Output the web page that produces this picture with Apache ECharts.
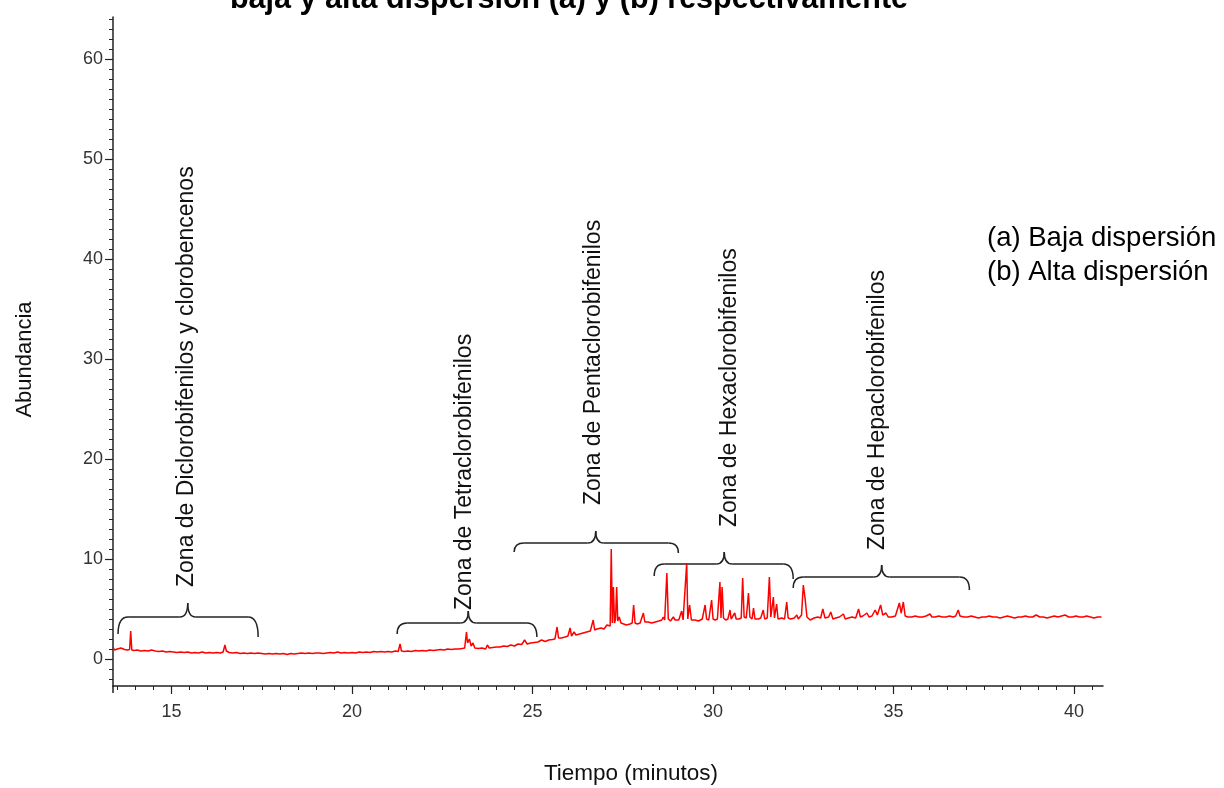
<!DOCTYPE html>
<html>
<head>
<meta charset="utf-8">
<script src="https://cdn.jsdelivr.net/npm/echarts@6/dist/echarts.min.js"></script>
<style>
html,body{margin:0;padding:0;background:#fff;}
#chart{width:1224px;height:788px;}
</style>
</head>
<body>
<div id="chart"></div>
<script>
// ---- data (time in minutes, abundance) ----
const trace = [
[13.38,1.2],[13.42,0.9],[13.5,1.0],[13.55,0.85],[13.6,1.1],[13.65,0.9],[13.7,0.95],[13.78,0.9],[13.84,0.95],[13.87,2.8],[13.9,0.9],[13.96,0.85],
[14.05,0.9],[14.15,0.8],[14.25,0.85],[14.35,0.8],[14.45,0.9],[14.55,0.8],[14.65,0.75],[14.75,0.8],[14.85,0.7],[14.95,0.75],
[15.05,0.7],[15.15,0.65],[15.25,0.7],[15.35,0.65],[15.45,0.7],[15.55,0.6],[15.65,0.65],[15.75,0.6],[15.85,0.7],[15.95,0.6],
[16.05,0.65],[16.15,0.6],[16.25,0.65],[16.35,0.6],[16.43,0.7],[16.48,1.4],[16.52,0.8],[16.6,0.65],[16.7,0.6],[16.8,0.65],[16.9,0.55],
[17.0,0.6],[17.1,0.55],[17.2,0.6],[17.3,0.55],[17.4,0.6],[17.5,0.55],[17.6,0.5],[17.7,0.55],[17.8,0.5],[17.9,0.55],
[18.0,0.5],[18.1,0.55],[18.2,0.45],[18.3,0.55],[18.4,0.5],[18.5,0.55],[18.6,0.6],[18.7,0.55],[18.8,0.6],[18.9,0.55],
[19.0,0.6],[19.05,0.8],[19.1,0.6],[19.2,0.55],[19.3,0.6],[19.4,0.65],[19.5,0.6],[19.6,0.7],[19.7,0.6],[19.8,0.65],[19.9,0.6],
[20.0,0.65],[20.1,0.6],[20.2,0.7],[20.3,0.65],[20.4,0.7],[20.5,0.65],[20.6,0.75],[20.7,0.7],[20.8,0.75],[20.9,0.7],
[21.0,0.75],[21.1,0.7],[21.2,0.8],[21.28,0.75],[21.33,1.5],[21.37,0.8],[21.45,0.75],[21.55,0.8],[21.65,0.75],[21.75,0.85],[21.85,0.8],[21.95,0.85],
[22.05,0.8],[22.15,0.9],[22.25,0.85],[22.35,0.9],[22.45,0.95],[22.55,0.9],[22.65,1.0],[22.75,0.95],[22.85,1.0],[22.95,1.0],
[23.05,1.05],[23.12,1.1],[23.17,2.7],[23.2,1.6],[23.25,2.0],[23.3,1.3],[23.35,1.6],[23.4,1.1],[23.5,1.05],[23.6,1.1],[23.7,1.0],[23.75,1.4],[23.8,1.1],[23.9,1.15],
[24.0,1.2],[24.1,1.2],[24.2,1.3],[24.3,1.25],[24.4,1.4],[24.5,1.3],[24.6,1.5],[24.7,1.45],[24.78,1.9],[24.85,1.5],[24.95,1.6],
[25.05,1.65],[25.15,1.7],[25.25,1.9],[25.35,1.75],[25.45,1.9],[25.55,1.95],[25.62,2.0],[25.68,3.2],[25.72,2.1],[25.8,2.1],[25.9,2.2],[25.98,2.3],
[26.04,3.1],[26.08,2.3],[26.15,2.7],[26.2,2.4],[26.3,2.5],[26.4,2.6],[26.5,2.7],[26.6,2.8],[26.68,3.9],[26.72,2.9],[26.78,3.0],[26.82,2.9],[26.9,3.1],[26.98,3.0],
[27.06,3.4],[27.1,3.2],[27.15,3.3],[27.18,11.0],[27.21,3.6],[27.24,7.2],[27.27,3.6],[27.3,4.0],[27.33,7.2],[27.36,3.8],[27.4,4.2],[27.45,3.6],[27.5,3.5],
[27.6,3.4],[27.7,3.5],[27.76,3.6],[27.8,5.4],[27.84,3.6],[27.9,3.5],[27.98,3.6],[28.07,4.6],[28.11,3.7],[28.2,3.7],[28.3,3.6],[28.4,3.7],[28.5,3.8],
[28.58,3.9],[28.62,4.2],[28.66,3.9],[28.72,8.6],[28.76,4.0],[28.82,3.8],[28.9,4.2],[28.95,3.9],[29.05,3.9],[29.13,4.8],[29.17,3.9],[29.22,3.8],
[29.27,9.6],[29.3,4.0],[29.35,5.4],[29.4,3.9],[29.5,3.9],[29.6,3.8],[29.7,4.0],[29.78,5.4],[29.82,4.0],[29.88,3.9],[29.96,5.9],
[30.0,4.0],[30.06,3.9],[30.12,4.0],[30.19,7.7],[30.22,4.1],[30.25,7.2],[30.29,4.1],[30.35,3.9],[30.41,4.0],[30.47,4.9],[30.5,4.0],[30.6,4.6],[30.64,4.0],
[30.72,4.0],[30.78,4.1],[30.82,8.1],[30.86,4.2],[30.92,4.1],[30.98,6.6],[31.02,4.2],[31.08,4.0],[31.12,5.1],[31.16,4.0],[31.25,4.0],[31.32,4.1],
[31.39,4.9],[31.43,4.0],[31.5,4.1],[31.56,8.2],[31.6,4.2],[31.67,6.2],[31.7,4.1],[31.76,5.5],[31.8,4.0],[31.9,4.1],[31.98,4.0],
[32.04,5.7],[32.08,4.1],[32.15,4.0],[32.25,4.1],[32.32,4.4],[32.36,4.0],[32.45,4.4],[32.5,7.4],[32.55,6.0],[32.6,4.2],[32.69,3.9],[32.8,4.1],[32.9,4.2],[32.98,4.1],
[33.04,5.0],[33.1,4.1],[33.2,4.2],[33.26,4.7],[33.32,4.0],[33.4,4.1],[33.5,4.2],[33.61,4.5],[33.66,4.0],[33.75,4.1],[33.85,4.2],[33.95,4.1],
[34.03,5.0],[34.08,4.2],[34.15,4.3],[34.26,4.6],[34.32,4.2],[34.4,4.3],[34.49,4.9],[34.55,4.4],[34.64,5.4],[34.7,4.4],[34.79,4.6],[34.85,4.2],[34.95,4.2],
[35.05,4.3],[35.1,4.4],[35.16,5.6],[35.21,4.6],[35.27,5.7],[35.32,4.3],[35.4,4.2],[35.5,4.2],[35.6,4.3],[35.7,4.2],[35.8,4.2],[35.9,4.3],
[36.01,4.5],[36.06,4.2],[36.15,4.2],[36.25,4.3],[36.35,4.2],[36.45,4.2],[36.55,4.3],[36.65,4.2],[36.72,4.3],[36.79,4.9],[36.84,4.3],[36.95,4.2],
[37.05,4.2],[37.15,4.3],[37.25,4.2],[37.35,4.1],[37.45,4.2],[37.55,4.2],[37.65,4.3],[37.75,4.2],[37.85,4.2],[37.95,4.1],
[38.05,4.2],[38.15,4.3],[38.25,4.2],[38.35,4.1],[38.45,4.2],[38.55,4.2],[38.65,4.3],[38.75,4.2],[38.85,4.2],[38.95,4.4],
[39.05,4.2],[39.15,4.2],[39.25,4.1],[39.35,4.2],[39.45,4.3],[39.55,4.2],[39.65,4.3],[39.75,4.4],[39.85,4.2],[39.95,4.2],
[40.05,4.3],[40.15,4.2],[40.25,4.2],[40.35,4.3],[40.45,4.2],[40.55,4.1],[40.65,4.2],[40.76,4.2]
];

const xMajorTicks = [15, 20, 25, 30, 35, 40];
const xMinorTicks = [13.5,14,14.5,15,15.5,16,16.5,17,17.5,18,18.5,19,19.5,20,20.5,21,21.5,22,22.5,23,23.5,24,24.5,25,25.5,26,26.5,27,27.5,28,28.5,29,29.5,30,30.5,31,31.5,32,32.5,33,33.5,34,34.5,35,35.5,36,36.5,37,37.5,38,38.5,39,39.5,40,40.5];
const yMajorTicks = [0, 10, 20, 30, 40, 50, 60];
const yMinorTicks = [-2,-1,0,1,2,3,4,5,6,7,8,9,10,11,12,13,14,15,16,17,18,19,20,21,22,23,24,25,26,27,28,29,30,31,32,33,34,35,36,37,38,39,40,41,42,43,44,45,46,47,48,49,50,51,52,53,54,55,56,57,58,59,60,61,62,63,64];

// zone annotations: label, text start [time, abundance]
const zoneLabels = [
  'Zona de Diclorobifenilos y clorobencenos',
  'Zona de Tetraclorobifenilos',
  'Zona de Pentaclorobifenilos',
  'Zona de Hexaclorobifenilos',
  'Zona de Hepaclorobifenilos'
];
const zoneLabelStart = [[15.43, 7.2], [23.13, 4.9], [26.70, 15.4], [30.47, 13.2], [34.57, 10.9]];
// brackets: [left, right, tip time, line level, tip level, left end level, right end level]
const zoneBrackets = [
  [13.52, 17.40, 15.45, 4.2, 5.6, 2.5, 2.2],
  [21.25, 25.12, 23.22, 3.6, 4.8, 2.5, 2.2],
  [24.49, 29.04, 26.75, 11.6, 12.8, 10.7, 10.6],
  [28.37, 32.22, 30.31, 9.5, 10.7, 8.3, 8.0],
  [32.22, 37.10, 34.67, 8.2, 9.4, 7.1, 6.9]
];
const legendLines = ['(a) Baja dispersión', '(b) Alta dispersión'];
const titleText = 'baja y alta dispersión (a) y (b) respectivamente';

const FONT = "'Liberation Sans', Arial, sans-serif";
const X_MIN = 13.38, X_MAX = 40.8, Y_MIN = -2.7, Y_MAX = 64.2;

const chart = echarts.init(document.getElementById('chart'), null, {renderer: 'canvas'});

chart.setOption({
  animation: false,
  backgroundColor: '#fff',
  grid: {left: 113, right: 121, top: 17, bottom: 102, containLabel: false, outerBoundsMode: 'none'},
  xAxis: [{
    type: 'value', min: X_MIN, max: X_MAX, position: 'bottom',
    name: 'Tiempo (minutos)', nameLocation: 'middle', nameGap: 76,
    nameTextStyle: {fontFamily: FONT, fontSize: 22.5, color: '#111', padding: [0, 0, 0, 46]},
    axisLine: {show: true, onZero: false, lineStyle: {color: '#222', width: 1.5}},
    axisTick: {show: true, customValues: xMajorTicks, length: 8, lineStyle: {color: '#222', width: 1.2}},
    axisLabel: {show: true, customValues: xMajorTicks, margin: 17, fontFamily: FONT, fontSize: 18, color: '#333'},
    splitLine: {show: false}
  }, {
    type: 'value', min: X_MIN, max: X_MAX, position: 'bottom',
    axisLine: {show: false, onZero: false},
    axisTick: {show: true, customValues: xMinorTicks, length: 4, lineStyle: {color: '#222', width: 1}},
    axisLabel: {show: false},
    splitLine: {show: false}
  }],
  yAxis: [{
    type: 'value', min: Y_MIN, max: Y_MAX, position: 'left',
    name: 'Abundancia', nameLocation: 'middle', nameGap: 77, nameRotate: 90,
    nameTextStyle: {fontFamily: FONT, fontSize: 22, color: '#111', padding: [0, 16, 0, 0]},
    axisLine: {show: true, onZero: false, lineStyle: {color: '#222', width: 1.5}},
    axisTick: {show: true, customValues: yMajorTicks, length: 8, lineStyle: {color: '#222', width: 1.2}},
    axisLabel: {show: true, customValues: yMajorTicks, margin: 10, fontFamily: FONT, fontSize: 18, color: '#333'},
    splitLine: {show: false}
  }, {
    type: 'value', min: Y_MIN, max: Y_MAX, position: 'left',
    axisLine: {show: false, onZero: false},
    axisTick: {show: true, customValues: yMinorTicks, length: 4, lineStyle: {color: '#222', width: 1}},
    axisLabel: {show: false},
    splitLine: {show: false}
  }],
  series: [{
    type: 'line',
    xAxisIndex: 0, yAxisIndex: 0,
    data: trace,
    showSymbol: false,
    symbol: 'none',
    lineStyle: {color: '#ff0000', width: 1.5},
    silent: true
  }]
});

function px(t, v) { return chart.convertToPixel({xAxisIndex: 0, yAxisIndex: 0}, [t, v]); }

const graphics = [];
// title (partially outside the top edge, as in the reference)
graphics.push({type: 'text', x: 569, y: 0, silent: true,
  style: {text: titleText, font: 'bold 30.5px ' + FONT, fill: '#000', textAlign: 'center', textVerticalAlign: 'middle'}});
// legend-like text
legendLines.forEach(function (s, i) {
  graphics.push({type: 'text', x: 987, y: 238 + i * 34, silent: true,
    style: {text: s, font: '27.5px ' + FONT, fill: '#000', textAlign: 'left', textVerticalAlign: 'middle'}});
});
// zone labels
zoneLabels.forEach(function (s, i) {
  const p = px(zoneLabelStart[i][0], zoneLabelStart[i][1]);
  graphics.push({type: 'text', x: p[0], y: p[1], rotation: Math.PI / 2, silent: true,
    style: {text: s, font: '23px ' + FONT, fill: '#111', textAlign: 'left', textVerticalAlign: 'middle'}});
});
// y axis line continues slightly below the x axis, as in the reference
const corner = px(X_MIN, Y_MIN);
graphics.push({type: 'line', silent: true, shape: {x1: corner[0], y1: corner[1], x2: corner[0], y2: corner[1] + 7},
  style: {stroke: '#222', lineWidth: 1.5}});
// brackets
const bs = {stroke: '#222', lineWidth: 1.5, fill: null};
zoneBrackets.forEach(function (b) {
  const L = px(b[0], b[3]), R = px(b[1], b[3]), T = px(b[2], b[4]);
  const yl = L[1], yt = T[1], xl = L[0], xr = R[0], xt = T[0];
  const yeL = px(b[0], b[5])[1], yeR = px(b[1], b[6])[1];
  const r = 10, t = 8;
  graphics.push({type: 'bezierCurve', silent: true, shape: {x1: xl, y1: yeL, cpx1: xl, cpy1: yl, x2: xl + r, y2: yl}, style: bs});
  graphics.push({type: 'line', silent: true, shape: {x1: xl + r, y1: yl, x2: xt - t, y2: yl}, style: bs});
  graphics.push({type: 'bezierCurve', silent: true, shape: {x1: xt - t, y1: yl, cpx1: xt, cpy1: yl, x2: xt, y2: yt}, style: bs});
  graphics.push({type: 'bezierCurve', silent: true, shape: {x1: xt, y1: yt, cpx1: xt, cpy1: yl, x2: xt + t, y2: yl}, style: bs});
  graphics.push({type: 'line', silent: true, shape: {x1: xt + t, y1: yl, x2: xr - r, y2: yl}, style: bs});
  graphics.push({type: 'bezierCurve', silent: true, shape: {x1: xr - r, y1: yl, cpx1: xr, cpy1: yl, x2: xr, y2: yeR}, style: bs});
});
chart.setOption({graphic: {elements: graphics}});
</script>
</body>
</html>
